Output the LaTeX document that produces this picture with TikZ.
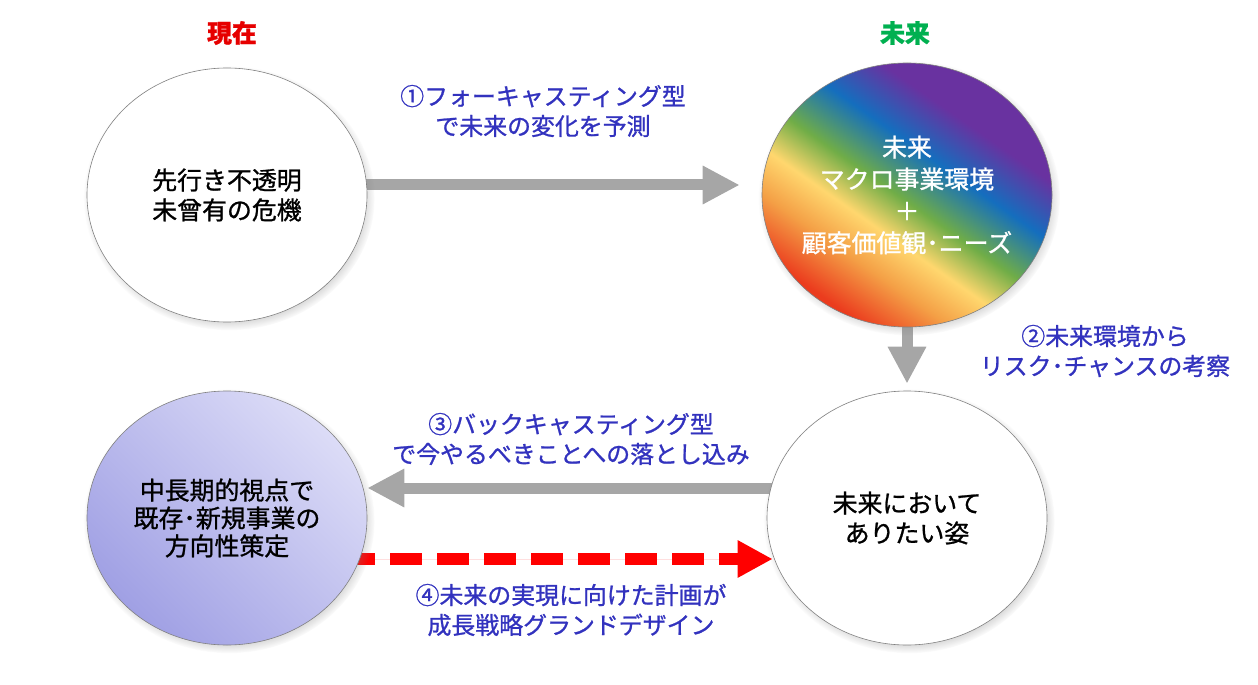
\documentclass[tikz,border=0pt]{standalone}
\usepackage{fontspec}
\setmainfont{Noto Sans CJK JP}[FakeBold=1]
\usetikzlibrary{arrows.meta,shapes.geometric,shadows,backgrounds}

\definecolor{lblblue}{RGB}{50,50,190}
\definecolor{nowred}{RGB}{230,0,0}
\definecolor{futgreen}{RGB}{0,176,80}
\definecolor{arrowgray}{RGB}{166,166,166}
\definecolor{lavlight}{RGB}{220,220,247}
\definecolor{lavdark}{RGB}{160,160,228}
\definecolor{rbred}{RGB}{235,60,30}
\definecolor{rborange}{RGB}{244,160,70}
\definecolor{rbyellow}{RGB}{255,215,110}
\definecolor{rbgreen}{RGB}{112,173,71}
\definecolor{rbblue}{RGB}{20,110,190}
\definecolor{rbpurple}{RGB}{105,50,160}

\pgfdeclarehorizontalshading{rainbowfill}{100bp}{color(0bp)=(rbred); color(26bp)=(rbred);
  color(35bp)=(rborange); color(42bp)=(rbyellow); color(49bp)=(rbgreen);
  color(58bp)=(rbblue); color(67bp)=(rbpurple); color(100bp)=(rbpurple)}

\begin{document}
\begin{tikzpicture}[x=1bp,y=1bp,>={Triangle[length=37bp,width=36bp]},node distance=680bp]
  \tikzstyle{bubble}=[ellipse,draw=gray,line width=0.6bp,minimum width=280bp,minimum height=254bp,
    inner sep=0pt,inner xsep=-20bp,align=center,font={\fontsize{25}{30}\selectfont},
    circular drop shadow={shadow scale=1.04,shadow xshift=2bp,shadow yshift=-3bp,opacity=0.6}]
  \tikzstyle{note}=[text=lblblue,align=center,font={\fontsize{24}{30}\selectfont}]
  \tikzstyle{title}=[align=center,font={\fontsize{25}{30}\selectfont\bfseries}]
  \tikzstyle{flow}=[->,draw=arrowgray,fill=arrowgray,line width=11bp]

  \useasboundingbox (0,0) rectangle (1258,-685);

  \node[bubble,fill=white] (now) at (227,-195) {先行き不透明\\未曾有の危機};
  \node[bubble,shading=rainbowfill,shading angle=55,minimum width=290bp,minimum height=264bp,
    text=white,font={\fontsize{25}{32}\selectfont}] (future) [right of=now]
    {未来\\マクロ事業環境\\＋\\顧客価値観･ニーズ};
  \node[bubble,fill=white] (ideal) [below of=future,node distance=323bp] {未来において\\ありたい姿};
  \node[bubble,top color=lavlight,bottom color=lavdark,shading angle=-45,
    font={\fontsize{25}{28}\selectfont}] (plan) [left of=ideal] {中長期的視点で\\既存･新規事業の\\方向性策定};

  \node[title,text=nowred] (nowtitle) at (232,-33) {現在};
  \node[title,text=futgreen] (futtitle) at (905,-33) {未来};

  \node[note] (fore) at (543,-111) {①フォーキャスティング型\\で未来の変化を予測};
  \node[note] (risk) at (1105,-351) {②未来環境から\\リスク･チャンスの考察};
  \node[note] (back) at (571,-439) {③バックキャスティング型\\で今やるべきことへの落とし込み};
  \node[note] (grand) at (571,-610) {④未来の実現に向けた計画が\\成長戦略グランドデザイン};

  % connectors behind the bubbles
  \begin{scope}[on background layer]
    \draw[flow,shorten >=22bp] ([yshift=10bp]now.center) -- ([yshift=10bp]future.west);
    \draw[flow,shorten >=7bp] (future.south) -- (ideal.north);
    \draw[flow] ([yshift=30bp]ideal.center) -- ([yshift=30bp]plan.east);
    \draw[-{Triangle[length=35bp,width=35bp]},draw=red,fill=red,line width=12bp,
      dash pattern=on 32bp off 15bp,shorten >=-6bp]
      ([shift={(-24bp,-41bp)}]plan.east) -- ([yshift=-41bp]ideal.west);
  \end{scope}
\end{tikzpicture}
\end{document}
